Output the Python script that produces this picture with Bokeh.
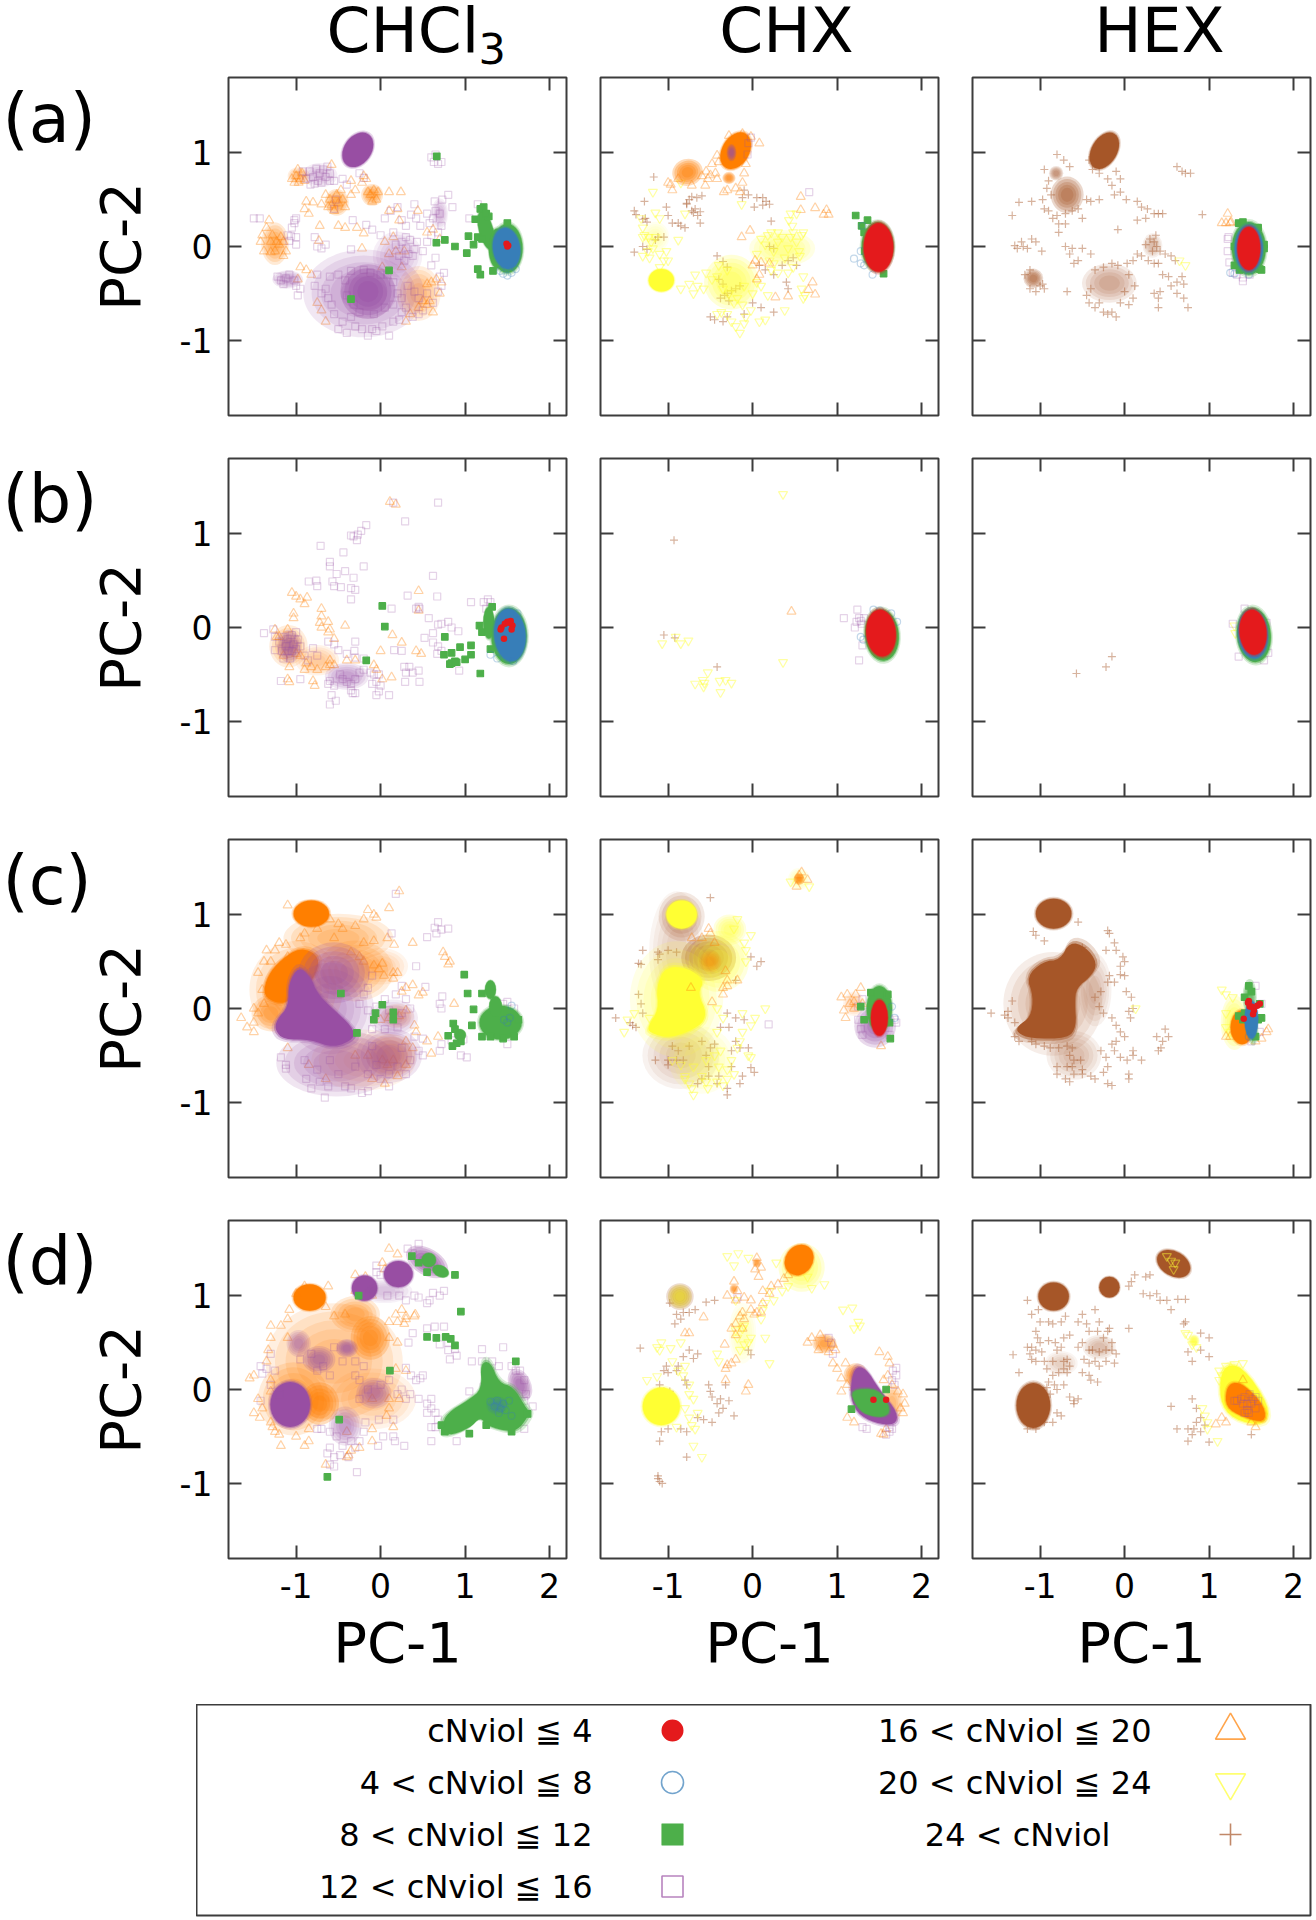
from bokeh.embed import file_html
from bokeh.resources import INLINE
from bokeh.plotting import figure
from bokeh.layouts import column, row
from bokeh.models import Range1d, LinearAxis, FixedTicker, ColumnDataSource, Spacer
from bokeh.core.properties import value
import math

COLS = ["CHCl", "CHX", "HEX"]
ROWS = ["(a)", "(b)", "(c)", "(d)"]
XT = [-1, 0, 1, 2]
YT = [-1, 0, 1]
LEG1 = ["cNviol ≦ 4", "4 < cNviol ≦ 8", "8 < cNviol ≦ 12", "12 < cNviol ≦ 16"]
LEG2 = ["16 < cNviol ≦ 20", "20 < cNviol ≦ 24", "24 < cNviol"]

# Dense regions: class, centre x, centre y, width, height, tilt in degrees, opacity
A1_DENSE = [("S",-.27,1.03,.32,.4,-35,1),("S",-.15,-.48,.5,.45,0,.9),("S",-.2,-.5,1.1,.72,0,.45),("T",.45,-.5,.4,.45,0,.4),("S",.2,-.1,.45,.4,0,.3),
 ("T",-.97,.75,.2,.15,0,.4),("T",-.52,.47,.22,.22,0,.6),("T",-.1,.55,.2,.18,0,.6),("T",-1.25,.03,.25,.35,0,.55),("S",-.72,.76,.32,.2,0,.3),("S",-1.1,-.35,.28,.15,0,.4),("S",.7,.35,.15,.25,0,.3),
 ("G",1.25,.17,.17,.42,15,1),("G",1.38,-.02,.2,.42,0,1),("G",1.5,-.02,.36,.52,0,1),("B",1.49,-.02,.32,.44,8,1)]
A2_DENSE = [("Y",-1.08,-.36,.3,.24,0,1),("Y",-.25,-.38,.5,.45,0,.65),("Y",.35,-.02,.6,.3,0,.45),("Y",-1.15,.1,.25,.25,0,.25),
 ("T",-.2,1.02,.32,.42,-30,1),("T",-.77,.79,.28,.22,15,.9),("T",-.28,.73,.12,.1,0,.85),("S",-.25,1.0,.09,.14,0,.8),
 ("G",1.48,0,.38,.52,0,1),("R",1.49,-.01,.35,.52,0,1)]
A3_DENSE = [("P",-.24,1.02,.3,.42,-30,1),("P",-.68,.55,.3,.3,0,.8),("P",-.81,.78,.13,.12,0,.55),("P",-1.08,-.34,.18,.16,-20,.7),
 ("P",-.18,-.39,.5,.32,0,.4),("P",.33,.01,.18,.2,0,.3),("G",1.47,-.02,.4,.56,0,1),("B",1.47,-.02,.33,.5,0,1),("R",1.47,-.02,.27,.46,0,1)]
B1_DENSE = [("T",-1.09,-.2,.35,.35,0,.45),("T",-.75,-.35,.4,.25,0,.3),("S",-1.08,-.2,.22,.27,0,.6),("S",-.4,-.52,.4,.22,0,.45),
 ("G",1.28,.05,.13,.34,0,1),("G",1.52,-.09,.42,.6,0,1),("B",1.53,-.08,.37,.56,5,1)]
B2_DENSE = [("G",1.53,-.08,.4,.55,5,1),("R",1.52,-.06,.35,.5,5,1)]
B3_DENSE = [("G",1.53,-.08,.4,.58,5,1),("B",1.52,-.07,.35,.52,5,1),("R",1.52,-.05,.32,.48,5,1)]
C1_DENSE = [("T",-.82,1.01,.42,.28,0,1),("T",-.5,.75,1.0,.4,0,.45),("T",-.3,.4,.7,.5,0,.45),("T",-1.0,.2,.85,.8,0,.4),
 ("T",-1.3,-.05,.35,.3,0,.55),("T",.0,.45,.5,.3,0,.25),("S",-.55,.38,.65,.5,0,.65),("S",-.6,.0,.8,.75,0,.4),
 ("S",-.52,-.58,1.1,.55,0,.5),("T",-.2,-.55,.95,.5,0,.25),("S",.1,-.5,.6,.45,0,.5),("T",.12,-.5,.45,.35,0,.45),("S",.15,-.1,.45,.3,0,.35),("T",.2,-.08,.3,.2,0,.3),
 ("G",1.42,-.15,.5,.36,0,1),("G",1.3,.2,.13,.2,0,1),("G",1.36,.02,.15,.22,0,1),("G",.94,-.28,.14,.12,-25,1)]
C2_DENSE = [("P",-.9,.6,.5,1.0,0,.2),("P",-.84,.98,.42,.4,0,.45),("P",-.85,-.5,.7,.55,0,.25),("P",-.52,.54,.5,.38,0,.95),
 ("Y",-.9,.1,.85,.95,0,.4),("Y",-.84,1.0,.36,.3,0,1),("Y",-.27,.84,.3,.25,0,.55),("Y",-.4,.5,.55,.5,0,.55),("Y",-.6,-.55,.6,.55,0,.3),("T",-.5,.5,.2,.18,0,.4),("T",.55,1.38,.1,.1,0,.9),("Y",.55,1.38,.2,.18,0,.3),
 ("S",1.45,-.19,.38,.35,0,.7),("T",1.2,.05,.2,.2,0,.25),("G",1.5,.0,.3,.48,0,1),("R",1.5,-.1,.2,.38,0,1)]
C3_DENSE = [("P",-.84,1.01,.42,.32,0,1),("P",-.85,.05,.9,.85,0,.35),("P",-.35,.2,.3,.6,0,.25),("P",-.6,-.5,.5,.4,0,.3),("Y",1.3,-.15,.25,.45,0,.6),("T",1.39,-.2,.27,.36,0,1),("B",1.5,-.12,.16,.4,0,1),("G",1.48,.12,.13,.3,0,.9),("G",1.52,-.25,.1,.22,0,.8)]
D1_DENSE = [("T",-.84,.98,.38,.28,0,1),("T",-.55,.3,1.25,.95,0,.4),("T",-.12,.55,.36,.36,0,.8),("T",-.3,.8,.45,.3,0,.55),("T",-.72,-.15,.35,.35,0,.85),("T",-1.03,-.1,.65,.6,0,.5),("T",-.1,-.1,.8,.5,0,.3),
 ("S",-1.07,-.16,.47,.48,0,1),("S",-.19,1.08,.3,.27,0,1),("S",.21,1.23,.34,.28,0,1),("S",.55,1.36,.42,.22,-30,.9),("S",.05,1.05,.5,.2,0,.25),
 ("S",-.4,.44,.2,.15,0,.7),("S",-.73,.32,.3,.22,0,.6),("S",-.97,.49,.22,.22,0,.5),("S",-.08,-.04,.32,.25,0,.55),("S",-.42,-.39,.3,.32,0,.5),
 ("S",1.65,.05,.2,.28,25,.75),("G",.57,1.38,.17,.15,0,1),("G",.71,1.26,.2,.12,-25,1),("B",1.38,-.17,.2,.15,0,.4)]
D2_DENSE = [("P",-.86,.99,.25,.22,0,.7),("Y",-1.08,-.18,.44,.4,0,1),("Y",-.86,.99,.22,.2,0,.6),("Y",.58,1.3,.42,.4,0,.65),("T",.55,1.38,.32,.34,-35,1),
 ("T",-.22,1.07,.08,.08,0,.7),("T",.05,1.35,.08,.08,0,.7),("T",.85,.49,.22,.16,0,.7),("T",1.22,.15,.22,.2,0,.85),("T",1.65,-.15,.2,.32,0,.45),("Y",-.12,.6,.25,.5,0,.25)]
D3_DENSE = [("P",-.84,.99,.36,.3,0,1),("P",-.18,1.09,.24,.22,0,1),("P",.58,1.34,.42,.26,-30,1),("P",-1.08,-.17,.4,.48,0,1),("P",-.3,.45,.3,.2,0,.3),("P",-.75,.28,.3,.2,0,.2),
 ("Y",.82,.52,.1,.1,0,.9)]

# Solid irregular regions: class, outline as (x, y)
C1_SOLID = [("T",[(-1.38,.13),(-1.36,.3),(-1.23,.48),(-.95,.66),(-.71,.55),(-.79,.3),(-1.11,.06),(-1.23,.06)]),
 ("S",[(-.97,.45),(-.83,.34),(-.75,.16),(-.56,-.01),(-.34,-.19),(-.3,-.32),(-.56,-.42),(-.83,-.33),(-1.15,-.33),(-1.25,-.23),(-1.23,-.12),(-1.09,.02),(-1.09,.27)])]
C2_SOLID = [("Y",[(-1.14,.23),(-1.03,.45),(-.76,.43),(-.57,.3),(-.65,.16),(-.54,-.05),(-.62,-.19),(-.97,-.32),(-1.22,-.26),(-1.24,-.19),(-1.11,-.01)])]
C3_SOLID = [("P",[(-.65,.71),(-.46,.66),(-.32,.48),(-.4,.34),(-.57,.22),(-.59,.06),(-.57,-.19),(-.67,-.32),(-1.11,-.32),(-1.27,-.26),(-1.27,-.19),(-1.11,-.09),(-1.08,.13),(-1.16,.34),(-.97,.5),(-.76,.52)])]
D1_SOLID = [("G",[(1.18,.28),(1.3,.3),(1.4,.07),(1.57,.03),(1.71,-.18),(1.77,-.25),(1.65,-.41),(1.53,-.45),(1.26,-.39),(1.18,-.29),(1.06,-.41),(.79,-.5),(.73,-.38),(.79,-.25),(1.04,-.11),(1.2,0)])]
D2_SOLID = [("S",[(1.2,.24),(1.34,.23),(1.5,0),(1.72,-.25),(1.69,-.38),(1.45,-.36),(1.23,-.25),(1.15,-.04)]),
 ("G",[(1.15,0),(1.5,.01),(1.64,-.22),(1.55,-.3),(1.34,-.27),(1.23,-.18)])]
D3_SOLID = [("Y",[(1.15,.25),(1.39,.26),(1.72,-.18),(1.66,-.39),(1.28,-.32),(1.12,-.11)]),
 ("T",[(1.28,.08),(1.42,.05),(1.66,-.18),(1.66,-.36),(1.39,-.29),(1.2,-.19),(1.2,0)])]

A1_SQUARE = [(.6,.95),(.63,.9),(.68,.88),(.72,.9),(.65,.98),(-.92,.8),(-.88,.72),(-.84,.8),(-.8,.74),(-.76,.83),(-.74,.7),(-.72,.78),(-.7,.68),(-.68,.82),(-.65,.74),(-.63,.85),(-.6,.78),(-.6,.7),(-.78,.67),(-.83,.66),(-.55,.7),(-.45,.72),
 (-.4,.66),(-.25,.78),(-.2,.73),(-.55,.4),(-.53,.5),(-.33,.28),(-1.0,.3),(-1.05,.2),(-1.02,.25),(-1.1,.12),(-1.06,.11),(-1.0,.1),(-1.02,.28),(-1.0,.02),(-1.08,.06),(-1.5,.3),(-1.43,.3),(-.78,.1),(-.75,.0),(-.7,-.02),(-.65,.02),(-.35,-.03),
 (-.17,.23),(-.1,.18),(0,.12),(.05,.3),(.12,.38),(.2,.42),(.25,.28),(.3,.22),(.36,.34),(.4,.45),(.42,.3),(.47,.22),(.55,.35),(.58,.25),(.62,.3),(.65,.38),(.7,.35),(.72,.22),(.68,.15),(.6,.12),(.64,.48),(.73,.5),(.8,.55),(.85,.42),(1.05,.3),(1.15,.45),
 (.3,.1),(.25,.05),(.3,-.02),(.33,-.08),(.38,-.1),(.28,-.15),(.4,-.03),(.43,.05),(.35,.07),(.18,.02),(.22,-.1),(.15,.15),(.5,-.05),(.55,.05),(.6,-.2),(.65,-.12),(.7,-.32),(.75,-.28),(.72,-.42),(.68,-.48),(.62,-.6),(.5,-.68),(.45,-.72),(.38,-.75),(.55,-.5),
 (-1.22,-.32),(-1.18,-.36),(-1.12,-.34),(-1.08,-.3),(-1.02,-.36),(-1.0,-.42),(-.98,-.52),(-.95,-.45),(-1.15,-.4),(-.78,-.42),(-.75,-.3),(-.7,-.5),(-.65,-.45),(-.62,-.55),(-.58,-.62),(-.55,-.72),(-.5,-.88),(-.45,-.8),(-.4,-.92),(-.35,-.75),(-.3,-.85),
 (-.22,-.88),(-.15,-.95),(-.1,-.88),(-.05,-.9),(.02,-.85),(.1,-.95),(.15,-.8),(.22,-.78),(.25,-.7),(.3,-.65),(-.6,-.32),(-.5,-.3),(-.42,-.36),(-.35,-.26),(-.2,-.25),(-.12,-.28),(.0,-.3),(.08,-.3),(.15,-.38),(.2,-.5),(.25,-.55),(.32,-.42),(.4,-.48),(.45,-.55),(-.32,-.62),(-.4,-.52),(-.08,-.72),(.05,-.65),(.15,-.62),(-.25,-.7)]
A1_TRIANGLE = [(-1.05,.72),(-1.0,.75),(-.98,.82),(-.95,.72),(-.93,.78),(-.9,.7),(-1.02,.68),(-.97,.68),(-.58,.87),(-.35,.7),(-.2,.75),(-.22,.68),(-.17,.72),(-.3,.6),(-.35,.55),(-.65,.55),(-.6,.5),(-.58,.44),(-.52,.55),(-.5,.46),(-.55,.38),(-.45,.5),(-.47,.6),(-.42,.42),
 (-.7,.45),(-.62,.42),(-.12,.55),(-.08,.6),(-.05,.5),(-.1,.48),(-.15,.58),(-.03,.58),(.1,.58),(.24,.58),(.1,.38),(.2,.4),(.22,.28),(-.88,.48),(-.8,.47),(-.9,.4),(-.85,.35),(-.72,.22),(-.5,.22),(-.42,.2),(-.28,.2),(-.2,.14),(-.73,.06),(-1.3,.05),(-1.28,.12),(-1.23,.05),(-1.25,-.05),(-1.3,-.06),
 (-1.2,.02),(-1.18,.1),(-1.35,.2),(-1.4,.12),(-1.42,.05),(-1.32,.28),(-1.38,-.05),(-1.15,.05),(-1.15,-.1),(-1.12,-.05),(-.22,-.02),(.05,.05),(.15,.1),(.28,-.05),(.44,.38),(.55,.15),(.62,.18),(.7,.08),(-.95,-.22),(-.88,-.25),(-.82,-.3),(-.98,-.35),(-.75,-.6),(-.7,-.68),(-.65,-.8),(.3,-.8),(.35,-.72),
 (.55,-.4),(.6,-.38),(.66,-.35),(.72,-.38),(.7,-.5),(.58,-.58),(.5,-.58),(.45,-.65),(.55,-.62),(.62,-.7),(.02,-.22),(.1,-.08),(.18,-.05),(.25,-.22)]
A1_GREEN = [(.66,.04),(.76,.07),(.88,0),(1.02,-.07),(1.1,.02),(1.04,.11),(1.12,.29),(1.22,.42),(1.18,.4),(1.18,-.3),(1.33,-.26),(.665,.96),(.1,-.255),(-.35,-.56),(1.5,.25),(1.15,-.24),(1.15,.1),(1.2,.08),(1.28,.32),(1.25,.35)]
A1_BLUE = [(1.45,-.29),(1.5,-.31),(1.55,-.28),(1.42,-.26),(1.6,-.24)]
A1_RED = [(1.49,.03),(1.51,.01),(1.5,0)]

A2_TRIANGLE = [(-.42,.97),(-.4,.9),(-.3,.92),(-.48,.88),(-.55,.8),(-.6,.75),(-.5,.76),(-.44,.78),(-.42,.72),(-.53,.72),(-.3,.6),(-.34,.58),(-.2,.62),(-.15,.58),(-.12,.68),(-.1,.78),(-.08,.88),(.08,1.1),(-.02,1.17),(-.12,1.2),(-.28,1.18),(-.97,.66),(-.95,.6),(-1.0,.68),(-.88,.72),(-.72,.65),(-.56,.65),
 (.57,.53),(.57,.39),(.74,.41),(.875,.39),(.84,.34),(.9,.34),(-.03,.17),(-.13,.1),(.71,-.38),(.66,-.46),(.74,-.51),(.42,-.53),(.27,-.54),(.03,-.15),(.1,-.17),(.0,-.2),(.2,-.18),(.08,-.3),(.05,-.35)]
A2_SQUARE = [(.67,.58),(-.02,1.16),(-.05,1.1),(-.06,.98),(1.42,.2)]
A2_INV = [(-1.15,.36),(-1.1,.3),(-1.32,.3),(-1.3,.2),(-1.28,.12),(-1.23,.1),(-1.18,-.02),(-1.2,.05),(-1.15,.1),(-1.3,.1),(-1.24,-.05),(-1.1,-.08),(-1.02,-.05),(-1.0,-.15),(-.88,.07),(-1.3,-.1),(-1.22,-.12),(-1.05,-.15),(-1.1,-.22),(-.85,-.45),(-.75,-.4),(-.65,-.42),(-.68,-.3),(-.58,-.45),(-.55,-.28),(-.48,-.35),
 (-.4,-.2),(-.42,-.32),(-.35,-.45),(-.3,-.25),(-.28,-.5),(-.22,-.6),(-.18,-.55),(-.12,-.62),(-.1,-.42),(-.02,-.68),(-.08,-.75),(.0,-.5),(-.3,-.72),(-.25,-.8),(-.2,-.85),(-.15,-.92),(-.1,-.82),(-.42,-.72),(-.37,-.7),(.08,-.8),(.15,-.78),(.38,-.68),(.05,-.38),(.1,-.42),(.18,-.52),(.22,-.25),
 (.05,-.08),(.1,.08),(.15,.02),(.18,.12),(.22,.15),(.25,-.05),(.3,.05),(.35,.1),(.38,-.12),(.42,-.02),(.45,.1),(.48,.15),(.52,.05),(.55,-.05),(.58,.12),(.6,.15),(.56,-.1),(.48,-.22),(.42,-.28),(.6,-.32),(.58,-.45),(.62,-.52),(.6,-.55),(.2,-.15),(.25,-.18),(.3,-.28),(.3,.15),(.43,.28),(.47,.22),(.52,.35),(.45,.35),(-.13,.45),(-.8,.35),(-.85,.68),(-1.18,.58),(-.7,-.5)]
A2_PLUS = [(-1.17,.74),(-1.4,.38),(-1.38,.34),(-1.28,.48),(-1.27,.3),(-1.25,.26),(-1.3,.29),(-1.02,.42),(-1.0,.33),(-.95,.25),(-.88,.25),(-.85,.22),(-.8,.2),(-.78,.46),(-.75,.5),(-.72,.53),(-.78,.45),(-.72,.38),(-.7,.36),(-.65,.33),(-.62,.25),(-.68,.4),(-.66,.52),(-.6,.54),(-.62,.37),
 (-.1,.6),(-.12,.52),(-.05,.55),(.02,.42),(.05,.52),(.12,.52),(.16,.48),(.2,.45),(.12,.44),(.22,.27),(-1.12,.1),(-1.15,.07),(-1.3,.0),(-1.05,.1),(-1.4,-.06),(-1.25,-.03),(-.42,-.1),(-.35,-.16),(-.3,-.22),(-.4,-.35),(-.35,-.4),(-.38,-.55),(-.3,-.5),(-.25,-.47),(-.2,-.45),(-.15,-.42),(-.28,-.58),(-.33,-.52),
 (-.5,-.75),(-.45,-.78),(-.35,-.8),(-.3,-.75),(-.1,-.72),(.1,-.65),(.25,-.7),(.0,-.6),(.08,-.2),(.15,-.25),(.25,-.3),(.35,-.2),(.42,-.15),(.48,-.12),(.52,-.2),(.4,-.38),(.42,-.45),(.2,.0),(.25,-.02)]
A2_GREEN = [(1.22,.33),(1.36,.28),(1.29,.22),(1.55,-.29),(1.32,.15),(1.33,-.05)]
A2_BLUE = [(1.2,-.13),(1.28,-.18),(1.42,-.3),(1.28,-.05),(1.32,-.2),(1.3,.22)]

A3_PLUS = [(-.8,.98),(-.72,.92),(-.65,.85),(-.42,.92),(-.38,.82),(-.3,.78),(-.2,.72),(-.1,.8),(-.05,.72),(-.15,.65),(-.05,.58),(-.12,.55),(.62,.85),(.68,.8),(.72,.78),(.78,.78),(-.95,.82),(-.9,.7),(-.92,.62),(-.87,.55),(-.97,.5),(-1.25,.47),(-1.1,.48),(-.95,.4),(-.9,.38),(-.85,.3),(-.8,.33),(-.7,.35),(-.62,.38),(-.55,.4),(-.5,.3),(-.78,.24),(-.7,.24),
 (-1.33,.33),(-.45,.5),(-.4,.48),(-.3,.5),(.02,.5),(.15,.48),(.2,.42),(.27,.4),(.35,.35),(.15,.28),(.25,.3),(.4,.35),(.45,.35),(-.08,.18),(-1.22,.05),(-1.2,.0),(-1.15,-.02),(-1.1,.08),(-1.05,.05),(-1.3,.01),(-1.27,-.02),(-.98,-.05),(-.78,.15),(-.7,.0),(-.65,-.08),(-.55,-.15),(-.62,-.02),(-.5,-.02),(-.4,-.08),(-.6,-.18),(-1.18,-.3),(-1.12,-.25),
 (-.95,-.45),(-1.0,-.42),(-1.12,-.45),(-1.05,-.48),(-.97,-.4),(-.68,-.48),(-.45,-.52),(-.42,-.6),(-.35,-.65),(-.4,-.45),(-.3,-.6),(-.25,-.7),(-.2,-.72),(-.15,-.7),(-.1,-.75),(-.05,-.6),(.0,-.48),(.05,-.62),(.1,-.55),(.12,-.42),(.05,-.3),(.03,-.18),(.1,-.15),(-.35,-.25),(-.25,-.22),(-.15,-.18),(-.08,-.2),(.15,-.08),(.2,-.1),(.25,.02),(.3,.08),(.33,-.05),(.38,.0),(.37,.12),(.35,.05),(.42,-.05),(.28,-.15),(.4,-.18),(.48,-.08),(.55,-.1),(.6,-.15),(.35,-.18),
 (.45,-.3),(.52,-.32),(.55,-.42),(.62,-.38),(.68,-.32),(.7,-.4),(.62,-.5),(.35,-.5),(.42,-.48),(.4,-.55),(.7,-.55),(.75,-.65),(.4,-.65),(.92,.34)]
A3_TRIANGLE = [(1.22,.35),(1.15,.25),(1.2,.25),(1.26,.26),(1.25,.25)]
A3_SQUARE = [(1.22,.08),(1.22,-.05),(1.24,-.17),(1.28,-.28),(1.33,-.3),(1.4,-.33),(1.4,-.37),(1.48,-.3),(1.23,.1)]
A3_INV = [(.65,-.15),(.72,-.2)]
A3_BLUE = [(1.25,-.28),(1.3,-.29),(1.47,-.3)]
A3_GREEN = [(1.35,.25),(1.4,.26),(1.58,.2),(1.65,.02),(1.6,-.24),(1.3,-.2),(1.3,.0),(1.65,-.02),(1.36,-.25),(1.62,-.25)]

B1_SQUARE = [(.68,1.33),(.15,1.33),(.29,1.13),(-.35,.98),(-.27,.99),(-.28,.93),(-.32,.97),(-.23,1.03),(-.17,1.09),(-.71,.87),(-.44,.8),(-.6,.7),(-.6,.65),(-.2,.65),(-.52,.57),(-.42,.6),(-.32,.53),(-.57,.49),(-.85,.49),(-.76,.5),(-.75,.44),(-.55,.44),(-.47,.43),(-.35,.42),(-.3,.4),(-.35,.3),
 (.62,.55),(.32,.34),(.67,.33),(.45,.22),(.46,.2),(.42,.2),(.13,.2),(.57,.1),(.68,.03),(.72,.04),(.8,.06),(.84,0),(.62,-.06),(.52,-.11),(.62,-.16),(.68,-.2),(.67,-.28),(.72,-.25),(.92,-.04),(.93,-.46),(.25,-.25),(.16,-.24),(.3,-.48),(.28,-.42),(.34,-.42),(.38,-.48),(.45,-.46),(.29,-.58),(.46,-.58),
 (1.07,.27),(1.27,.3),(1.3,.27),(1.25,.2),(1.22,.27),(-1.38,-.06),(-1.27,-.02),(-1.25,-.1),(-1.2,-.15),(-1.15,-.1),(-1.1,-.12),(-1.05,-.08),(-1.0,-.05),(-.98,-.13),(-1.03,-.18),(-1.12,-.2),(-1.17,-.25),(-1.1,-.25),(-1.05,-.25),(-1.0,-.23),(-.95,-.2),(-1.25,-.24),(-1.15,-.33),(-1.07,-.33),(-.9,-.3),(-.86,-.35),(-.62,-.15),(-.55,-.18),(-.8,-.22),(-.75,-.3),
 (-.31,-.25),(-.3,-.15),(-.5,-.24),(-.4,-.28),(-.3,-.32),(-.2,-.33),(-1.18,-.57),(-.95,-.55),(-.6,-.57),(-.62,-.6),(-.55,-.62),(-.48,-.5),(-.45,-.55),(-.4,-.58),(-.35,-.6),(-.3,-.55),(-.25,-.48),(-.2,-.45),(-.12,-.48),(-.08,-.5),(-.02,-.5),(-.05,-.58),(-.1,-.6),(.0,-.62),(-.35,-.67),(-.3,-.7),(-.33,-.7),(-.58,-.72),(-.6,-.82),(-.53,-.78),(-.05,-.72),(.1,-.72),(-.02,-.68)]
B1_TRIANGLE = [(.11,1.34),(.18,1.31),(-1.05,.37),(-1.0,.33),(-.95,.3),(-.87,.32),(-.9,.25),(-1.03,.15),(-1.03,.1),(-.7,.2),(-.7,.12),(-.62,.06),(-.72,.05),(-.62,-.05),(-.7,.0),(-.42,.02),(-.55,-.12),(-.6,-.02),(.45,.39),(.45,.18),(.14,-.08),(.25,-.16),(.42,-.25),(.48,-.28),(-1.25,-.02),(-1.2,-.1),(-1.1,-.02),(-1.08,-.42),(-1.15,-.3),
 (-1.1,-.55),(-1.08,-.58),(-.8,-.57),(-.78,-.62),(-.9,-.45),(-.82,-.42),(-.88,-.38),(-.75,-.45),(-.65,-.42),(-.6,-.4),(-.55,-.4),(-.6,-.35),(-.4,-.35),(-.3,-.35),(-.08,-.4),(-.05,-.45),(.02,-.55),(.13,-.53),(.0,-.25),(-1.23,-.1),(-.95,-.3),(-1.0,-.28)]
B1_GREEN = [(.02,.23),(.05,.01),(-.17,-.35),(.76,-.1),(.75,-.29),(.84,-.27),(.94,-.21),(1.07,-.19),(1.07,-.29),(1.0,-.34),(.84,-.38),(.82,-.39),(.88,-.36),(.9,-.37),(1.18,-.49),(1.17,.02),(1.2,-.05),(1.32,.22),(1.3,-.23)]
B1_RED = [(1.5,.06),(1.54,.07),(1.47,.04),(1.43,0),(1.56,.02),(1.55,-.02),(1.46,-.12),(1.42,-.02),(1.52,.05)]
B1_BLUE = [(1.3,-.29),(1.57,-.36),(1.38,-.33),(1.62,.15)]

B2_SQUARE = [(1.24,.19),(1.08,.1),(1.26,.1),(1.32,.1),(1.28,.07),(1.23,.06),(1.21,0),(1.29,.04),(1.3,-.19),(1.26,-.35)]
B2_BLUE = [(1.43,.19),(1.64,.15),(1.71,.06),(1.28,-.1),(1.31,-.13),(1.51,.18)]
B2_TRIANGLE = [(.46,.17)]
B2_INV = [(.36,1.42),(-1.07,-.17),(-.91,-.1),(-.85,-.17),(-.76,-.14),(-.53,-.48),(.36,-.37),(-.68,-.6),(-.59,-.56),(-.57,-.59),(-.58,-.63),(-.39,-.57),(-.32,-.56),(-.25,-.59),(-.38,-.69)]
B2_PLUS = [(-.93,.93),(-1.05,-.08),(-.92,-.11),(-.42,-.42)]
B3_PLUS = [(-.15,-.31),(-.22,-.42),(-.57,-.49)]
B3_SQUARE = [(1.42,.2),(1.28,.04),(1.35,-.31),(1.65,-.35),(1.7,-.27),(1.68,.05)]
B3_INV = [(1.31,-.06),(1.3,.02)]

C1_SQUARE = [(.18,1.22),(.64,.86),(.68,.92),(.72,.84),(.8,.85),(.55,.76),(.66,.8),(.13,.8),(.42,.45),(-.1,.35),(-.15,.22),(.05,.1),(.25,.24),(.18,.15),(.3,.1),(.35,.0),(.4,-.3),(.5,-.32),(.53,.23),(.7,.05),(.72,.0),(.73,.13),(.72,-.38),(.84,-.34),(.98,-.33),(1.02,-.52),(.95,-.5),(.7,-.45),(1.5,.07),(1.45,.05),(1.58,.0),(1.5,-.38),
 (-1.18,-.52),(-1.12,-.6),(-1.12,-.64),(-.88,-.75),(-.72,-.78),(-.82,-.85),(-.62,-.83),(-.42,-.83),(-.35,-.85),(-.22,-.9),(-.15,-.88),(-.66,-.95),(.1,-.83),(.1,-.7),(.3,-.7),(.35,-.55),(.45,-.45),(.5,-.5),(-.05,-.6),(-.3,-.62),(-.15,-.7),(-.5,-.7),(-.75,-.65),(-.9,-.55),(-.6,-.55),(.0,-.75),(.2,-.62),(.25,-.42),(-.1,-.4),(-.1,-.22),(.05,-.22),(-.05,.02),(-.2,.15),(-.25,.05),(-.15,-.02),(.1,-.02),(.2,-.2),(.25,-.05)]
C1_TRIANGLE = [(.22,1.25),(.1,1.07),(-.15,1.05),(-.08,1.0),(-.2,.95),(-.05,.97),(-.3,.88),(-.2,.7),(-.08,.72),(.08,.75),(.16,.68),(.38,.7),(.74,.6),(.76,.55),(.8,.47),(.82,.5),(.02,.48),(-.08,.46),(-.02,.42),(.04,.35),(.15,.32),(.2,.38),(.15,.38),(.3,.22),(.5,.17),(.38,.25),(.25,.18),(.45,.14),(.87,.05),
 (.68,-.3),(.6,-.48),(.3,-.35),(.4,-.18),(.42,-.25),(.55,-.35),(.38,-.42),(.0,-.12),(.1,-.1),(.22,-.08),(.3,-.02),(-1.65,-.1),(-1.58,-.2),(-1.5,-.25),(-1.5,-.15),(-1.45,-.05),(-1.5,0),(-1.38,.05),(-1.4,.2),(-1.45,.38),(-1.38,.5),(-1.35,.62),(-1.3,.5),(-1.25,.62),(-1.2,.7),(-1.12,.68),(-1.1,.55),(-1.1,1.1),(-.75,.85),(-.95,.75),(-.9,.8),(-.6,.95),(-.5,.9),(-.45,.85),(-.55,.75),(-.35,.6),(-.25,.55),(-.2,.5),
 (-.1,-.75),(.05,-.8),(.08,-.6),(.15,-.55),(.3,-.6),(.2,-.72),(.02,-.55),(-.15,-.5),(-.3,-.5),(-.65,-.75),(-.85,-.6),(-1.1,-.42)]
C1_GREEN = [(.99,.36),(1.03,.16),(1.1,-.01),(.86,-.16),(.8,-.29),(.85,-.4),(-.47,.16),(-.28,-.26),(.02,.04),(-.06,-.05),(-.08,-.12),(.15,-.04),(.15,-.12),(.9,-.37),(.95,-.35),(1.2,.16),(1.08,-.18),(1.2,-.3),(1.3,-.3),(1.45,-.32),(1.58,-.3),(1.63,-.12),(.88,-.22)]
C1_BLUE = [(1.46,-.12),(1.5,-.15),(1.53,-.1),(1.55,.03)]

C2_INV = [(-1.22,-.1),(-1.4,-.05),(-1.48,-.12),(-1.52,-.25),(-.95,-.55),(-.85,-.6),(-.8,-.75),(-.7,-.62),(-.75,-.8),(-.55,-.55),(-.45,-.5),(-.38,-.45),(-.12,-.05),(-.02,-.18),(.03,-.1),(-.12,-.25),(-.15,-.35),(-.18,-.42),(-.02,-.52),(-.05,-.5),(-.25,-.55),(-.3,-.65),(-.4,-.62),(-.3,-.75),(-.42,-.78),(-.55,-.78),(-.72,-.85),(-.8,-.72),(-.6,-.72),(-.7,-.92),(-.53,-.85),(-.35,-.82),(-.22,-.7),(-.42,-.25),(-.35,-.1),(-.42,.0),(-.02,.78),(-.18,.95),(-.22,.85),(-.1,.7),(-.08,.62),(-.08,.5),(.15,.0),(.45,1.35),(.67,1.3)]
C2_TRIANGLE = [(.52,1.3),(.55,1.42),(.58,1.45),(-.73,.22),(-.35,.22),(-.3,.24),(-.35,.15),(-.48,.07),(-.6,.75),(-.5,.8),(-.45,.7),(-.52,.85),(-.72,.75),(-.3,.3),(-.18,.3),(-.32,.4),(1.05,.12),(1.12,.15),(1.22,.15),(1.28,.22),(1.2,.07),(1.1,-.1),(1.08,-.02),(1.2,.0),(1.15,.05),(1.3,.05),(1.52,-.4),(.65,1.37)]
C2_PLUS = [(-.5,1.18),(-1.3,.62),(-1.12,.6),(-1.1,.58),(-1.12,.52),(-1.0,.62),(-.9,.6),(-1.35,.48),(-1.32,.47),(.05,.45),(-.2,.3),(-.02,.55),(.1,.5),(-1.62,-.1),(-1.45,-.15),(-1.42,-.18),(-1.38,-.2),(-1.35,.15),(-1.32,.05),(-1.3,-.05),(-.95,-.4),(-.88,-.45),(-1.0,-.55),(-.9,-.55),(-.82,-.55),(-1.15,-.55),(-1.0,-.6),
 (-.75,-.4),(-.6,-.35),(-.5,-.42),(-.45,-.38),(-.25,-.45),(-.2,-.35),(-.15,-.42),(-.05,-.42),(-.02,-.63),(.02,-.68),(-.55,-.5),(-.52,-.62),(-.52,-.72),(-.65,-.8),(-.6,-.75),(-.42,-.8),(-.4,-.72),(-.3,-.85),(-.3,-.92),(-.15,-.8),(-.12,-.72),(-.25,-.62),(-.1,-.12),(-.2,-.1),(-.3,-.05),(-.38,-.2),(-.28,-.2)]
C2_SQUARE = [(.19,-.17),(1.25,.02),(1.3,.1),(1.25,-.12),(1.68,-.12),(1.7,-.15),(1.28,-.22),(1.3,-.28),(1.62,-.28)]
C2_GREEN = [(1.63,-.32),(1.28,.02),(1.32,-.12),(1.4,.17),(1.6,.15),(1.62,-.15)]
C2_BLUE = [(1.65,.02),(1.68,-.1)]

C3_PLUS = [(-.5,.65),(-.55,.92),(-1.08,.82),(-1.05,.78),(-.95,.72),(-.2,.83),(-.18,.8),(-.22,.62),(-.12,.7),(-.1,.62),(-.02,.55),(.0,.5),(-.05,.45),(.0,.35),(-.18,.35),(-.05,.36),(-.12,.28),(-.2,.28),(.02,.18),(-.28,.18),(-.35,.12),(-.3,.02),(-.25,-.05),(-.15,-.1),(-.1,-.18),(-.05,-.25),(.0,-.3),(-.1,-.35),(.08,.12),(.1,0),(.05,-.03),(.07,-.1),
 (-1.58,-.05),(-1.38,-.03),(-1.33,.08),(-1.38,-.1),(-1.42,-.07),(-1.3,-.15),(-1.3,-.3),(-1.25,-.35),(-1.1,-.35),(-1.05,-.38),(-.95,-.4),(-.88,-.42),(-.78,-.42),(-.68,-.4),(-.62,-.42),(-.65,-.5),(-.6,-.55),(-.52,-.55),(-.62,-.62),(-.68,-.62),(-.8,-.62),(-.6,-.7),(-.5,-.7),(-.28,-.45),(-.22,-.52),(-.12,-.45),(-.15,-.38),
 (-.2,-.62),(-.25,-.68),(-.05,-.52),(.03,-.55),(.1,-.45),(.1,-.5),(.2,-.55),(.38,-.3),(.45,-.35),(.48,-.22),(.43,-.42),(.4,-.45),(.52,-.3),(-.8,-.7),(-.5,-.65),(-.7,-.75),(.05,-.7),(.05,-.75),(-.15,-.82),(-.2,-.8),(-.35,-.75),(-.4,-.72),(-.65,-.78)]
C3_INV = [(.13,.0),(1.15,.2),(1.2,.15),(1.2,-.2),(1.25,-.25),(1.2,-.05),(1.28,.12)]
C3_TRIANGLE = [(1.2,-.3),(1.25,-.3),(1.68,-.25),(1.7,-.22),(1.62,-.32),(1.55,-.35)]
C3_SQUARE = [(1.55,.24),(1.62,.05),(1.5,-.35),(1.6,-.25)]
C3_GREEN = [(1.47,.24),(1.42,.12),(1.6,.05),(1.62,-.1),(1.42,-.05),(1.35,-.08),(1.55,-.3),(1.5,.18),(1.58,-.12),(1.4,-.12)]
C3_RED = [(1.46,.06),(1.48,.02),(1.53,-.02),(1.52,-.06),(1.6,.05),(1.57,.03),(1.41,-.11),(1.5,.02),(1.47,.08)]
C3_BLUE = [(1.5,-.25),(1.47,-.3)]

D1_SQUARE = [(.45,1.55),(.32,1.5),(.38,1.45),(-.05,1.32),(-.05,1.25),(.0,1.22),(.08,1.0),(.22,1.0),(.3,.95),(.4,1.0),(.45,.98),(.55,.92),(.58,.95),(.62,1.03),(.7,1.0),(.75,1.05),(.55,.65),(.64,.67),(.75,.67),(.38,.6),(.33,.5),(.7,.48),(.8,.42),(.88,.43),(.9,.36),(.82,.32),(.8,.5),(1.2,.43),
 (.3,.23),(.36,.15),(.42,.1),(.47,.12),(.5,.15),(.1,.1),(.25,0),(.2,-.05),(.35,-.05),(.3,-.1),(.45,-.1),(.55,-.15),(.6,-.1),(.6,-.2),(.55,-.25),(.65,-.25),(.68,-.32),(.6,-.4),(.65,-.4),(.15,-.32),(.15,-.5),(.03,-.5),(-.03,-.6),(.17,-.55),(.28,-.6),(.6,-.55),(.9,-.55),
 (1.05,-.02),(1.08,.3),(1.2,.3),(1.22,.03),(1.3,.2),(1.32,.3),(1.45,.45),(1.6,.2),(1.65,.2),(1.7,.1),(1.72,-.05),(1.8,-.18),(1.7,-.12),(1.7,-.42),(1.55,.25),(1.4,.25),(-1.42,.25),(-1.35,.22),(-1.4,.17),(-1.3,.38),(-1.25,.2),(-1.3,.05),(-1.2,-.05),(-1.42,-.12),
 (-.95,.32),(-.82,.38),(-.75,.2),(-.68,.25),(-.6,.15),(-.55,.45),(-.45,.3),(-.3,.3),(-.3,.15),(-.25,.1),(-.2,.25),(.0,.05),(-.15,.0),(-.25,-.1),(-.7,-.42),(-.75,-.42),(-.6,-.45),(-.52,-.5),(-.6,-.62),(-.63,-.68),(-.45,-.6),(-.35,-.55),(-.3,-.62),(-.25,-.55),(-.55,-.72),(-.48,-.7),(-.55,-.82),(-.38,-.72),(-.6,-.8),(-.28,-.88),(-.2,-.45),(-.18,-.35),(-.02,-.32)]
D1_TRIANGLE = [(.1,1.5),(.2,1.44),(.02,1.35),(.05,1.28),(-.3,1.22),(-.18,1.2),(-.3,1.05),(-.1,1.0),(-.9,1.1),(-1.0,1.02),(-.62,1.1),(-1.08,.85),(-1.1,.75),(-.65,.88),(-.55,.78),(-.42,.8),(.25,.85),(.3,.78),(.28,.7),(.18,.8),(.2,.72),(.1,.72),(.1,.55),(.2,.5),(.3,.75),(.4,.78),(.41,.8),(-1.3,.68),(-1.18,.68),(-1.1,.55),(-1.3,.55),(-1.33,.42),(-1.35,.3),
 (-1.3,.1),(-1.3,-.02),(-1.4,-.2),(-1.5,-.25),(-1.43,-.3),(-1.45,-.1),(-1.28,-.4),(-1.3,-.35),(-1.25,-.45),(-1.2,-.48),(-1.0,-.5),(-.85,-.55),(-.9,-.6),(-.85,-.42),(-1.18,-.6),(-.65,-.8),(-.38,-.7),(-.4,-.72),(-.35,-.65),(-.1,-.55),(-.1,-.42),(.07,-.28),(.15,-.4),(.18,.22),(.3,.2),(-.1,-.1),(.1,-.2),(-1.55,.12),(-1.5,.15),(.1,-.1),(.22,-.1),(-.25,-.62),(-.4,-.45)]
D1_GREEN = [(-.26,1.0),(.11,.2),(.55,.56),(.66,.55),(.77,.56),(.83,.54),(.88,.47),(-.49,-.32),(-.63,-.93),(1.6,.3),(.72,-.38),(.76,-.45),(1.05,-.47),(1.25,-.38),(1.55,-.45),(1.74,-.26),(.37,1.42),(.45,1.35),(.55,1.25),(.88,1.22),(.95,.83)]
D1_BLUE = [(1.3,-.13),(1.38,-.12),(1.42,-.2),(1.45,-.15),(1.48,-.22),(1.52,-.12),(1.4,-.25),(1.35,-.18),(1.55,-.28)]

D2_INV = [(-.3,1.42),(-.17,1.45),(-.22,1.32),(-.05,1.4),(.28,1.35),(-.2,.95),(.15,.92),(.25,.95),(1.07,.85),(1.18,.87),(1.25,.72),(1.27,.68),(1.2,.65),(-1.08,.5),(-1.13,.45),(-1.1,.42),(-.97,.44),(-.85,.5),(-.42,.38),(.2,.28),(-.4,.3),(-.18,.55),(-.2,.63),(-.12,.65),(-.1,.48),(-.15,.42),(-.05,.5),(-.02,.55),(.15,.55),(.1,.75),(.12,.85),(-.1,.68),(-.95,.3),(-.88,.2),(-.8,.25),(-.82,.15),
 (-1.13,.14),(-1.25,.1),(-.75,-.3),(-.72,-.38),(-.68,-.42),(-.7,-.6),(-.6,-.72),(-.8,-.2),(-.75,-.05),(-.7,-.1),(-.75,.05),(-.9,-.4),(-.65,-.25),(.2,1.05),(.35,1.05),(.42,1.1),(.7,1.08),(.85,1.12),(.65,1.2)]
D2_TRIANGLE = [(-.22,1.15),(-.3,1.0),(-.2,.95),(-.18,1.05),(.05,1.4),(.03,1.28),(.1,1.3),(.07,1.2),(.12,1.05),(.2,1.02),(.22,1.1),(.3,1.12),(.37,1.18),(.42,1.22),(.12,.92),(-.1,.98),(-.02,.95),(-.02,.85),(-.12,.82),(-.15,.78),(-.1,.75),(-.12,.65),(.05,.82),(.1,.82),(.02,.8),(-.58,.77),(-.75,.6),(-.8,.6),(-.2,.7),(-.25,.65),(-.2,.58),
 (-.33,.48),(-.2,.32),(-.25,.28),(-.3,.26),(-.32,.22),(-.32,.1),(-.05,.05),(-.08,-.02),(.65,.5),(.7,.55),(.8,.58),(.95,.48),(.98,.42),(.78,.42),(.9,.4),(.95,.28),(1.0,.22),(1.1,.28),(1.05,.12),(1.12,.05),(1.2,.02),(1.05,-.02),(1.5,.4),(1.6,.35),(1.62,.28),(1.6,.15),(1.55,.1),(1.65,.05),(1.72,-.02),(1.78,-.05),(1.8,-.15),(1.75,-.2),(1.78,-.25),(1.58,-.42),(1.55,-.48),(1.52,-.47),(1.12,-.3),(1.2,-.35)]
D2_PLUS = [(-1.33,.44),(-1.05,.2),(-1.0,.18),(-1.02,.25),(-.88,.25),(-.82,.35),(-.75,.42),(-.65,.38),(-.7,.33),(-.98,.92),(-.9,.8),(-.85,.75),(-.75,.82),(-.68,.85),(-.55,.93),(-.45,.95),(-.92,.7),(-.82,.82),(-1.1,.05),(-1.05,-.02),(-.98,-.02),(-.8,.1),(-.78,.05),(-.52,.05),(-.5,-.02),(-.48,-.08),(-.42,-.15),(-.38,-.1),(-.35,-.2),(-.4,-.25),(-.28,-.12),
 (-.22,-.28),(-.58,-.32),(-.48,-.35),(-.32,.05),(-1.0,-.42),(-.85,-.42),(-.78,-.45),(-.65,-.3),(-1.08,-.45),(-1.1,-.55),(-.78,-.72),(-1.12,-.92),(-1.1,-.98),(-1.12,-.95),(-1.07,-1.0),(-.05,.42),(-.02,.37),(-.9,.2)]
D2_SQUARE = [(-.18,.98),(.9,.55),(.93,.5),(.95,.38),(1.7,.23),(1.66,.2),(1.7,.15),(1.65,.1),(1.68,.05),(1.3,-.4),(1.35,-.42),(1.62,-.45),(1.65,-.42),(1.58,-.48),(1.62,-.4)]
D2_GREEN = [(1.17,-.21),(1.58,.0)]
D2_RED = [(1.43,-.11),(1.58,-.11)]

D3_PLUS = [(-1.15,.95),(-1.1,.8),(-1.0,.72),(-1.02,.85),(-1.05,.62),(-1.03,.55),(-.9,.72),(-.85,.7),(-.75,.72),(-.7,.78),(-.55,.72),(-.5,.8),(-.45,.7),(-.42,.62),(-.35,.85),(-.3,.72),(-.32,.62),(-.25,.55),(-.2,.62),(-.18,.65),(-.15,.5),(.05,.65),(-1.1,.45),(-1.05,.42),(-1.0,.5),(-.98,.4),(-.9,.52),(-.82,.5),(-.8,.42),(-.75,.45),(-.72,.55),(-.65,.58),(-.55,.45),(-.5,.5),(-.42,.42),
 (-.38,.42),(-.3,.4),(-.22,.42),(-.15,.42),(-.1,.38),(-.48,.32),(-.42,.28),(-.35,.3),(-.3,.25),(-.22,.3),(-1.15,.45),(-1.12,.38),(-1.1,.32),(-1.05,.3),(-.95,.3),(-.92,.22),(-.85,.3),(-.72,.3),(-.68,.32),(-.65,.25),(-.68,.18),(-.72,.22),(-.78,.18),(-.85,.15),(-.9,.08),(-.92,.02),(-.83,.05),(-.8,.0),(-.72,.05),(-.65,-.08),(-.6,-.12),(-1.32,.37),(-1.25,.18),(-.12,.28),
 (-.5,.18),(-.42,.15),(-.4,.1),(-.32,.08),(-.88,-.05),(-.6,-.15),(-.55,-.1),(-.95,-.35),(-.85,-.35),(-.75,-.28),(-.8,-.25),(-1.05,-.42),(-1.15,-.42),(.12,1.22),(.08,1.15),(.05,1.1),(.25,1.2),(.3,1.22),(.22,1.02),(.3,1.0),(.38,1.02),(.42,.95),(.5,.95),(.63,.96),(.72,.96),(.55,.85),(.72,.72),(.7,.7),(.75,.4),(.8,.3),(.9,.42),(1.0,.55),(.9,.6),(1.0,.35),
 (.55,-.18),(.8,-.1),(.85,-.2),(.9,-.3),(.85,-.35),(.82,-.42),(.9,-.45),(.95,-.38),(.75,-.42),(.62,-.42),(.8,-.48),(.75,-.55),(1.0,-.56),(1.5,-.48)]
D3_INV = [(.5,1.42),(.55,1.37),(.6,1.35),(.58,1.28),(.72,.6),(.75,.58),(.8,.48),(.85,.45),(.92,-.2),(.95,-.28),(.98,-.35),(1.1,-.55),(.98,-.42),(1.12,.2),(1.2,.25),(1.3,.27),(1.4,.28),(1.12,.1),(1.15,.15)]
D3_TRIANGLE = [(1.08,-.37),(1.15,-.3),(1.2,-.35),(1.4,.1),(1.5,-.35),(1.55,-.4)]
D3_SQUARE = [(1.3,-.12),(1.33,-.12),(1.38,-.1),(1.4,-.15),(1.45,-.15),(1.42,-.08),(1.48,-.05),(1.5,-.15),(1.45,-.22),(1.47,-.25),(1.42,-.25),(1.55,-.2),(1.58,-.12),(1.52,-.1),(1.55,-.08)]

PANELS = [
 [(A1_DENSE,[],dict(T=A1_TRIANGLE,S=A1_SQUARE,G=A1_GREEN,B=A1_BLUE,R=A1_RED)),
  (A2_DENSE,[],dict(P=A2_PLUS,Y=A2_INV,T=A2_TRIANGLE,S=A2_SQUARE,G=A2_GREEN,B=A2_BLUE)),
  (A3_DENSE,[],dict(P=A3_PLUS,Y=A3_INV,T=A3_TRIANGLE,S=A3_SQUARE,G=A3_GREEN,B=A3_BLUE))],
 [(B1_DENSE,[],dict(T=B1_TRIANGLE,S=B1_SQUARE,G=B1_GREEN,B=B1_BLUE,R=B1_RED)),
  (B2_DENSE,[],dict(P=B2_PLUS,Y=B2_INV,T=B2_TRIANGLE,S=B2_SQUARE,B=B2_BLUE)),
  (B3_DENSE,[],dict(P=B3_PLUS,Y=B3_INV,S=B3_SQUARE))],
 [(C1_DENSE,C1_SOLID,dict(T=C1_TRIANGLE,S=C1_SQUARE,G=C1_GREEN,B=C1_BLUE)),
  (C2_DENSE,C2_SOLID,dict(P=C2_PLUS,Y=C2_INV,T=C2_TRIANGLE,S=C2_SQUARE,G=C2_GREEN,B=C2_BLUE)),
  (C3_DENSE,C3_SOLID,dict(P=C3_PLUS,Y=C3_INV,T=C3_TRIANGLE,S=C3_SQUARE,G=C3_GREEN,B=C3_BLUE,R=C3_RED))],
 [(D1_DENSE,D1_SOLID,dict(T=D1_TRIANGLE,S=D1_SQUARE,G=D1_GREEN,B=D1_BLUE)),
  (D2_DENSE,D2_SOLID,dict(P=D2_PLUS,Y=D2_INV,T=D2_TRIANGLE,S=D2_SQUARE,G=D2_GREEN,R=D2_RED)),
  (D3_DENSE,D3_SOLID,dict(P=D3_PLUS,Y=D3_INV,T=D3_TRIANGLE,S=D3_SQUARE))],
]

ORDER = ["P", "Y", "T", "S", "G", "B", "R"]
COLOR = dict(R="#e41a1c", B="#377eb8", G="#4daf4a", S="#984ea3", T="#ff7f00", Y="#ffff33", P="#a65628")
STYLE = dict(
 R=dict(marker="circle", size=6.5, fill_alpha=1, line_alpha=0),
 B=dict(marker="circle", size=7, fill_alpha=0, line_alpha=.3),
 G=dict(marker="square", size=6.5, fill_alpha=1, line_alpha=1),
 S=dict(marker="square", size=7, fill_alpha=0, line_alpha=.25),
 T=dict(marker="triangle", size=9, fill_alpha=0, line_alpha=.35),
 Y=dict(marker="inverted_triangle", size=9, fill_alpha=0, line_alpha=.45),
 P=dict(marker="cross", size=8, fill_alpha=0, line_alpha=.45),
)
FONT = value("DejaVu Sans")
INK = "#3c3c3c"
SOLID_STEPS = [(1.12, .22), (1.05, .45), (1.0, 1.0)]
HAZE_STEPS = [(1.3, .3), (1.12, .3), (.92, .3), (.72, .3), (.5, .3)]

def rounded(outline):
    # corner-cutting so that an outline reads as a soft cloud edge
    pts = outline
    for _ in range(2):
        out = []
        for i, a in enumerate(pts):
            b = pts[(i + 1) % len(pts)]
            out.append((.75 * a[0] + .25 * b[0], .75 * a[1] + .25 * b[1]))
            out.append((.25 * a[0] + .75 * b[0], .25 * a[1] + .75 * b[1]))
        pts = out
    return pts

def strip(w, h, top=0, bottom=0):
    s = figure(frame_width=w, frame_height=h, output_backend="svg", toolbar_location=None, x_range=Range1d(0, w), y_range=Range1d(h, 0),
               x_axis_type=None, y_axis_type=None, min_border_left=0, min_border_right=0, min_border_top=top, min_border_bottom=bottom, outline_line_color=None)
    s.grid.visible = False
    return s

def panel(r, c, dense, solid, pts):
    left = 58 if c == 0 else 17
    right = 17 if c < 2 else 2
    top = 7 if r == 0 else 21
    bottom = 146 if r == 3 else 22
    p = figure(frame_width=338, frame_height=338, output_backend="svg", toolbar_location=None,
               x_range=Range1d(-1.8, 2.2), y_range=Range1d(-1.8, 1.8),
               min_border_left=left, min_border_right=right, min_border_top=top, min_border_bottom=bottom,
               outline_line_color=INK, outline_line_width=2, background_fill_color="white")
    p.grid.visible = False
    p.add_layout(LinearAxis(), "above")
    p.add_layout(LinearAxis(), "right")
    for ax, t in ((p.below[0], XT), (p.above[0], XT), (p.left[0], YT), (p.right[0], YT)):
        ax.ticker = FixedTicker(ticks=t)
        ax.axis_line_color = None
        ax.major_tick_in = 13
        ax.major_tick_out = 0
        ax.minor_tick_line_color = None
        ax.major_tick_line_color = INK
        ax.major_tick_line_width = 2
        ax.major_label_text_font = "DejaVu Sans"
        ax.major_label_text_color = "black"
        ax.major_label_text_font_size = "1px"
        ax.major_label_overrides = {v: "" for v in t}
        ax.major_label_standoff = 0
    if r == 3:
        b = p.below[0]
        b.major_label_overrides = {v: str(v) for v in XT}
        b.major_label_text_font_size = "33px"
        b.major_label_standoff = 14
        b.axis_label = "PC-1"
        b.axis_label_text_font = "DejaVu Sans"
        b.axis_label_text_font_style = "normal"
        b.axis_label_text_font_size = "56px"
        b.axis_label_text_color = "black"
        b.axis_label_standoff = 9
    if c == 0:
        l = p.left[0]
        l.major_label_overrides = {v: str(v) for v in YT}
        l.major_label_text_font_size = "33px"
        l.major_label_standoff = 16
    for k in ORDER:
        rows_ = [d for d in dense if d[0] == k]
        for scale_i in range(5):
            sx, sy, sw, sh, sa, sf = [], [], [], [], [], []
            for d in rows_:
                steps = SOLID_STEPS if d[6] >= .99 else HAZE_STEPS
                if scale_i < len(steps):
                    m, al = steps[scale_i]
                    sx.append(d[1]); sy.append(d[2]); sw.append(d[3] * m); sh.append(d[4] * m)
                    sa.append(math.radians(d[5])); sf.append(al if d[6] >= .99 else al * d[6])
            if sx:
                p.ellipse(x="x", y="y", width="w", height="h", angle="a", fill_color=COLOR[k], fill_alpha="f", line_color=None,
                          source=ColumnDataSource(dict(x=sx, y=sy, w=sw, h=sh, a=sa, f=sf)))
        for cls, outline in solid:
            if cls != k:
                continue
            soft = rounded(outline)
            cx = sum(q[0] for q in soft) / len(soft)
            cy = sum(q[1] for q in soft) / len(soft)
            for m, al in SOLID_STEPS:
                p.patch([cx + (q[0] - cx) * m for q in soft], [cy + (q[1] - cy) * m for q in soft],
                        fill_color=COLOR[k], fill_alpha=al, line_color=None)
        if k in pts:
            s = STYLE[k]
            p.scatter([q[0] for q in pts[k]], [q[1] for q in pts[k]], marker=s["marker"], size=s["size"],
                      fill_color=COLOR[k], fill_alpha=s["fill_alpha"], line_color=COLOR[k], line_alpha=s["line_alpha"], line_width=1.2)
    return p

# title strip above the panels
head = strip(1310, 70)
head.text([326], [30], text=[COLS[0]], text_font=FONT, text_font_size=value("63px"), text_color="black", text_baseline="alphabetic")
head.text([478], [48], text=["3"], text_font=FONT, text_font_size=value("43px"), text_color="black", text_baseline="alphabetic")
head.text([786, 1159], [30, 30], text=COLS[1:], text_font=FONT, text_font_size=value("63px"), text_color="black", text_align="center", text_baseline="alphabetic")

rows_out = [row(head, spacing=0)]
for r in range(4):
    top = 7 if r == 0 else 21
    bottom = 146 if r == 3 else 22
    st = strip(170, 338, top, bottom)
    st.text([2], [41], text=[ROWS[r]], text_font=FONT, text_font_size=value("67px"), text_color="black", text_baseline="middle")
    st.text([120], [169], text=["PC-2"], angle=math.pi / 2, text_font=FONT, text_font_size=value("56px"), text_color="black", text_align="center", text_baseline="middle")
    rows_out.append(row(st, *[panel(r, c, *PANELS[r][c]) for c in range(3)], spacing=0))

# legend box
lg = figure(frame_width=1114, frame_height=211, output_backend="svg", toolbar_location=None,
            x_range=Range1d(0, 1114), y_range=Range1d(211, 0), x_axis_type=None, y_axis_type=None,
            min_border_left=0, min_border_right=2, min_border_top=0, min_border_bottom=2,
            outline_line_color=INK, outline_line_width=2)
lg.grid.visible = False
Y1 = [26, 78, 130, 182]
K1 = ["R", "B", "G", "S"]
K2 = ["T", "Y", "P"]
LEG_SIZE = dict(R=22, B=22, G=21, S=21, T=30, Y=30, P=22)
lg.text([396] * 4, Y1, text=LEG1, text_align="right", text_baseline="middle", text_font=FONT, text_font_size=value("32px"), text_color="black")
lg.text([955, 955, 914], Y1[:3], text=LEG2, text_align="right", text_baseline="middle", text_font=FONT, text_font_size=value("32px"), text_color="black")
for xs, ks in ((476, K1), (1034, K2)):
    for y0, k in zip(Y1, ks):
        s = STYLE[k]
        lg.scatter([xs], [y0], marker=s["marker"], size=LEG_SIZE[k], fill_color=COLOR[k], fill_alpha=s["fill_alpha"],
                   line_color=COLOR[k], line_alpha=.7 if s["line_alpha"] else 0, line_width=1.6)

layout = column(*rows_out, row(Spacer(width=196, height=1), lg, spacing=0), spacing=0)
open("out.html", "w").write(file_html(layout, INLINE))
